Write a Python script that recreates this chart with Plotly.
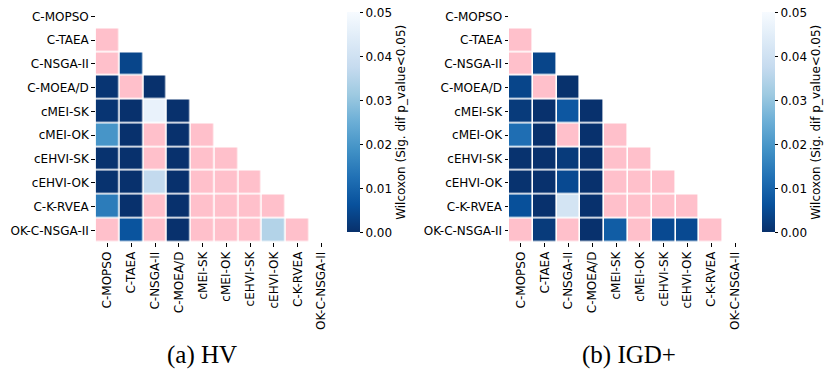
import plotly.graph_objects as go

names = ["C-MOPSO", "C-TAEA", "C-NSGA-II", "C-MOEA/D", "cMEI-SK", "cMEI-OK",
         "cEHVI-SK", "cEHVI-OK", "C-K-RVEA", "OK-C-NSGA-II"]

NS = 1.0  # p_value >= 0.05 (not significant, drawn pink)

hv_rows = [
    [],
    [NS],
    [NS, 0.004],
    [0.001, NS, 0.0002],
    [0.001, 0.0002, 0.0465, 0.0002],
    [0.0195, 0.0002, NS, 0.0002, NS],
    [0.0005, 0.0002, NS, 0.0002, NS, NS],
    [0.0005, 0.0002, 0.037, 0.0002, NS, NS, NS],
    [0.0145, 0.0002, NS, 0.0002, NS, NS, NS, NS],
    [NS, 0.0068, NS, 0.0002, NS, NS, NS, 0.0345, NS],
]

igd_rows = [
    [],
    [NS],
    [NS, 0.004],
    [0.004, NS, 0.0003],
    [0.002, 0.0002, 0.0075, 0.0002],
    [0.012, 0.0002, NS, 0.0002, NS],
    [0.0005, 0.0002, 0.002, 0.0002, NS, NS],
    [0.0005, 0.0002, 0.0048, 0.0002, NS, NS, NS],
    [0.006, 0.0002, 0.041, 0.0002, NS, NS, NS, NS],
    [NS, 0.002, NS, 0.0002, 0.0085, NS, 0.0048, 0.0048, NS],
]

captions = ["(a) HV", "(b) IGD+"]
cbar_title = "Wilcoxon (Sig. dif p_value<0.05)"

blues_r = [
    [0.0, "rgb(8,48,107)"], [0.125, "rgb(8,81,156)"], [0.25, "rgb(33,113,181)"],
    [0.375, "rgb(66,146,198)"], [0.5, "rgb(107,174,214)"], [0.625, "rgb(158,202,225)"],
    [0.75, "rgb(198,219,239)"], [0.875, "rgb(222,235,247)"], [1.0, "rgb(247,251,255)"],
]
pink = [[0, "#ffc0cb"], [1, "#ffc0cb"]]

W, H = 824, 383


def matrices(rows):
    n = len(names)
    sig = [[None] * n for _ in range(n)]
    ns = [[None] * n for _ in range(n)]
    for i, r in enumerate(rows):
        for j, v in enumerate(r):
            if v >= 0.05:
                ns[i][j] = 1
            else:
                sig[i][j] = v
    return sig, ns


fig = go.Figure()

panels = [
    dict(rows=hv_rows, x0=95.7, x1=333.3, cbx=347.3, xa="x", ya="y", cap_x=202),
    dict(rows=igd_rows, x0=509.0, x1=747.1, cbx=762.3, xa="x2", ya="y2", cap_x=629),
]
y_top, y_bot = 4.5, 242.3
font = dict(family="DejaVu Sans", size=12, color="black")

for k, p in enumerate(panels):
    sig, ns = matrices(p["rows"])
    fig.add_trace(go.Heatmap(
        z=ns, x=names, y=names, colorscale=pink, showscale=False,
        xgap=1.6, ygap=1.6, xaxis=p["xa"], yaxis=p["ya"], hoverinfo="skip"))
    fig.add_trace(go.Heatmap(
        z=sig, x=names, y=names, colorscale=blues_r, zmin=0, zmax=0.05,
        xgap=1.6, ygap=1.6, xaxis=p["xa"], yaxis=p["ya"],
        colorbar=dict(
            x=p["cbx"] / W, xanchor="left", xpad=0, ypad=0,
            y=(H - 12.3) / H, yanchor="top", len=220.4 / H, lenmode="fraction",
            thickness=13.4, outlinewidth=0,
            tickvals=[0, 0.01, 0.02, 0.03, 0.04, 0.05], tickformat=".2f",
            ticks="outside", ticklen=3.5, tickwidth=0.8, tickcolor="black",
            tickfont=font,
            title=dict(text=cbar_title, side="right", font=font),
        )))
    sfx = "" if k == 0 else "2"
    fig.layout["xaxis" + sfx] = dict(
        domain=[p["x0"] / W, p["x1"] / W], anchor="y" + sfx,
        type="category", range=[-0.5, 9.5], tickangle=-90,
        ticks="outside", ticklen=3.5, tickwidth=0.8, tickcolor="black",
        tickfont=font, showgrid=False, zeroline=False, showline=False)
    fig.layout["yaxis" + sfx] = dict(
        domain=[(H - y_bot) / H, (H - y_top) / H], anchor="x" + sfx,
        type="category", range=[9.5, -0.5],
        ticks="outside", ticklen=3.5, tickwidth=0.8, tickcolor="black",
        tickfont=font, showgrid=False, zeroline=False, showline=False)
    fig.add_annotation(
        text=captions[k], x=p["cap_x"] / W, y=(H - 355) / H,
        xref="paper", yref="paper", showarrow=False,
        xanchor="center", yanchor="middle",
        font=dict(family="Liberation Serif", size=25, color="black"))

fig.update_layout(
    width=W, height=H, margin=dict(l=0, r=0, t=0, b=0),
    paper_bgcolor="white", plot_bgcolor="white", showlegend=False)

fig.write_html("out.html")
